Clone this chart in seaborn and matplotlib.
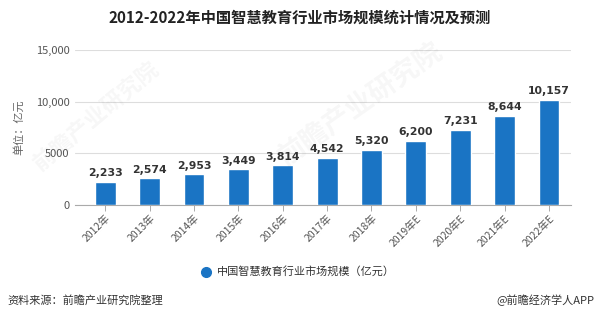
import matplotlib
matplotlib.use("Agg")
import matplotlib.pyplot as plt
import seaborn as sns
import pandas as pd

years = ["2012年", "2013年", "2014年", "2015年", "2016年", "2017年", "2018年",
         "2019年E", "2020年E", "2021年E", "2022年E"]
market_size = [2233, 2574, 2953, 3449, 3814, 4542, 5320, 6200, 7231, 8644, 10157]
y_ticks = [0, 5000, 10000, 15000]
y_tick_labels = ["0", "5000", "10,000", "15,000"]

sns.set_theme(style="white")
plt.rcParams["font.family"] = ["Noto Sans CJK SC", "DejaVu Sans"]

df = pd.DataFrame({"year": years, "value": market_size})
bar_color = "#1a74c4"

fig = plt.figure(figsize=(6.0, 3.24), dpi=100)
ax = fig.add_axes([0.125, 0.368, 0.827, 0.478])

# faint watermark behind the plot
fig.text(0.16, 0.64, "前瞻产业研究院", rotation=40, fontsize=16, color="#000000",
         alpha=0.035, ha="center", va="center", fontweight="bold")
fig.text(0.6, 0.68, "前瞻产业研究院", rotation=35, fontsize=20, color="#000000",
         alpha=0.035, ha="center", va="center", fontweight="bold")

sns.barplot(data=df, x="year", y="value", color=bar_color, width=0.47,
            saturation=1, ax=ax, zorder=3)
ax.patch.set_alpha(0)

ax.set_ylim(0, 15000)
ax.set_xlim(-0.68, 10.5)
ax.set_yticks(y_ticks)
ax.set_yticklabels(y_tick_labels)
ax.yaxis.grid(True, color="#dddddd", linewidth=0.8, zorder=0)
ax.set_xlabel("")
ax.set_ylabel("单位：亿元", fontsize=8, color="#666666", labelpad=8)

for s in ["top", "right", "left"]:
    ax.spines[s].set_visible(False)
ax.spines["bottom"].set_color("#aaaaaa")
ax.spines["bottom"].set_linewidth(0.8)

ax.tick_params(axis="y", length=0, labelsize=8, labelcolor="#555555", pad=4)
ax.tick_params(axis="x", length=4, width=0.7, color="#aaaaaa", direction="out",
               labelsize=7.5, labelcolor="#555555", pad=2, bottom=True)
plt.setp(ax.get_xticklabels(), rotation=45, ha="right", rotation_mode="anchor")

for i, v in enumerate(market_size):
    ax.text(i, v + 350, f"{v:,}", ha="center", va="bottom", fontsize=7.8,
            fontweight="bold", color="#333333", family="DejaVu Sans")

fig.text(0.5, 0.945, "2012-2022年中国智慧教育行业市场规模统计情况及预测",
         ha="center", va="center", fontsize=11, fontweight="bold", color="#222222")

# legend
fig.lines.append(plt.Line2D([0.343], [0.162], marker="o", markersize=7,
                            color=bar_color, transform=fig.transFigure))
fig.text(0.362, 0.162, "中国智慧教育行业市场规模（亿元）", ha="left", va="center",
         fontsize=8, color="#333333")

# footer
fig.text(0.012, 0.072, "资料来源：前瞻产业研究院整理", ha="left", va="center",
         fontsize=8, color="#333333")
fig.text(0.99, 0.072, "@前瞻经济学人APP", ha="right", va="center",
         fontsize=8, color="#333333")

fig.savefig("out.png", dpi=100)
